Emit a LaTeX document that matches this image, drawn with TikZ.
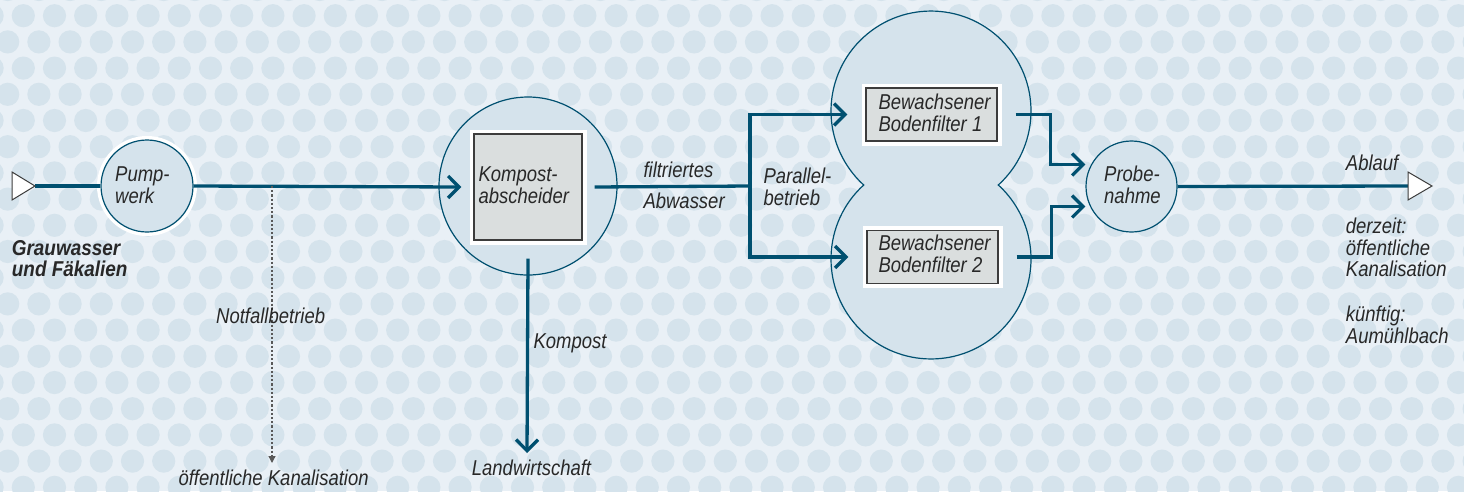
\documentclass[tikz,border=0pt]{standalone}
\usepackage{fontspec}
\setmainfont{Liberation Sans}[FakeStretch=0.86]
\newfontfamily\boldcond{Liberation Sans}[FakeStretch=0.88]
\usetikzlibrary{arrows.meta}

\definecolor{bgblue}{RGB}{233,240,246}
\definecolor{dotblue}{RGB}{213,227,236}
\definecolor{lineblue}{RGB}{0,80,112}
\definecolor{boxgray}{RGB}{218,222,222}
\definecolor{txt}{RGB}{40,40,40}
\definecolor{edgegray}{RGB}{60,60,60}

% stacked lines, baseline of the block = baseline of the first line
\newcommand\twoline[2]{\vtop{\hbox{#1}\hbox{#2}}}
\newcommand\threeline[3]{\vtop{\hbox{#1}\hbox{#2}\hbox{#3}}}

\begin{document}
\begin{tikzpicture}[x=1pt,y=-1pt,
  every node/.style={font=\fontsize{21.5}{21.7}\selectfont\itshape, text=txt},
  lbl/.style={anchor=base west, inner sep=0pt},
  station/.style={circle, fill=dotblue, draw=lineblue, line width=1.2pt, inner sep=0pt},
  filterbox/.style={rectangle, fill=boxgray, draw=edgegray, line width=1.3pt, inner sep=0pt,
                    preaction={draw=white, line width=9pt}},
  flow/.style={draw=lineblue, line width=3.3pt},
  arr/.style={-{Straight Barb[length=11pt,width=22pt]}},
  endtri/.style={fill=white, draw=edgegray, line width=1pt, line join=miter},
  emergency/.style={draw=black!65, line width=1.3pt, dash pattern=on 2.2pt off 2pt,
                    -{Triangle[length=7pt,width=7pt]}}
]
\useasboundingbox (0,0) rectangle (1464,491);

% dotted backdrop
\begin{scope}
\clip (0,0) rectangle (1464,491);
\fill[bgblue] (0,0) rectangle (1464,491);
\foreach \k in {-1,...,19}{
  \foreach \i in {-1,...,48}{
    \pgfmathsetmacro\dx{23.3+31.2*\i+15.6*mod(abs(\k),2)}
    \pgfmathsetmacro\dy{15.7+26.2*\k}
    \fill[dotblue] (\dx,\dy) circle[radius=11.6pt];
  }
}
\end{scope}

% double basin holding the two soil filters
\path[fill=dotblue, draw=lineblue, line width=1.2pt]
  (998.3,185) arc[start angle=-47.7, end angle=227.7, radius=100pt]
              arc[start angle=132.3, end angle=407.7, radius=100pt] -- cycle;

% stations
\node[station, minimum size=92pt, preaction={draw=white, line width=8pt}] (pump) at (147,186) {};
\node[station, minimum size=178pt] (komp) at (528,186) {};
\node[filterbox, minimum width=108pt, minimum height=106pt] (kbox) at (528,187) {};
\node[filterbox, minimum width=131pt, minimum height=53pt] (box1) at (931.5,114.5) {};
\node[filterbox, minimum width=131pt, minimum height=53pt] (box2) at (932.5,257) {};
\node[station, minimum size=91pt] (probe) at (1131.5,186.5) {};

% fixed points of the piping
\coordinate (intip) at (35,186);
\coordinate (outbase) at (1408,186);
\coordinate (nf) at (272,186);
\coordinate (nfend) at (272,463);
\coordinate (split) at (750,186);
\coordinate (land) at (527,453);

% pipes
\draw[flow] (intip) -- (pump.west);
\draw[flow, arr] (pump.east) -- ([xshift=-12pt]kbox.west);
\draw[emergency] (nf) -- (nfend);
\draw[flow] ([xshift=12pt]kbox.east) -- (split);
\draw[flow, arr] (split) |- ([xshift=-18pt]box1.west);
\draw[flow, arr] (split) |- ([xshift=-18pt]box2.west);
\draw[flow, arr] ([xshift=18pt]box1.east) -- ++(35,0) |- ([yshift=22pt]probe.west);
\draw[flow, arr] ([xshift=18pt]box2.east) -- ++(35,0) |- ([yshift=-20pt]probe.west);
\draw[flow] (probe.east) -- (outbase);
\draw[flow, arr] ([yshift=-18pt]kbox.south) -- (land);

% inlet and outlet marks
\draw[endtri] (intip) -- ++(-23,-14) -- ++(0,28) -- cycle;
\draw[endtri] (outbase) -- ++(0,-14) -- ++(24,14) -- ++(-24,14) -- cycle;

% labels
\node[lbl] (tpump) at (115,181.7) {\twoline{Pump-}{werk}};
\node[lbl, font=\fontsize{21.5}{21.7}\boldcond\bfseries\itshape] (tin) at (11.7,255) {\twoline{Grauwasser}{und Fäkalien}};
\node[lbl] (tkomp) at (478.3,181.7) {\twoline{Kompost-}{abscheider}};
\node[lbl] (tfilt) at (643.3,177) {filtriertes};
\node[lbl] (tabw) at (643.3,208.3) {Abwasser};
\node[lbl] (tpar) at (763.3,183.5) {\twoline{Parallel-}{betrieb}};
\node[lbl] (tbox1) at (878.3,109.3) {\twoline{Bewachsener}{Bodenfilter 1}};
\node[lbl] (tbox2) at (878.3,250.7) {\twoline{Bewachsener}{Bodenfilter 2}};
\node[lbl] (tprobe) at (1104,181.7) {\twoline{Probe-}{nahme}};
\node[lbl] (tabl) at (1345.7,170) {Ablauf};
\node[lbl] (tnow) at (1345.7,233.3) {\threeline{derzeit:}{öffentliche}{Kanalisation}};
\node[lbl] (tlater) at (1345.7,321.7) {\twoline{künftig:}{Aumühlbach}};
\node[lbl] (tcomp) at (533.3,348.3) {Kompost};
\node[lbl] (tland) at (471.7,475) {Landwirtschaft};
\node[lbl] (tnot) at (216,323.3) {Notfallbetrieb};
\node[lbl] (tkan) at (178.3,485) {öffentliche Kanalisation};
\end{tikzpicture}
\end{document}
